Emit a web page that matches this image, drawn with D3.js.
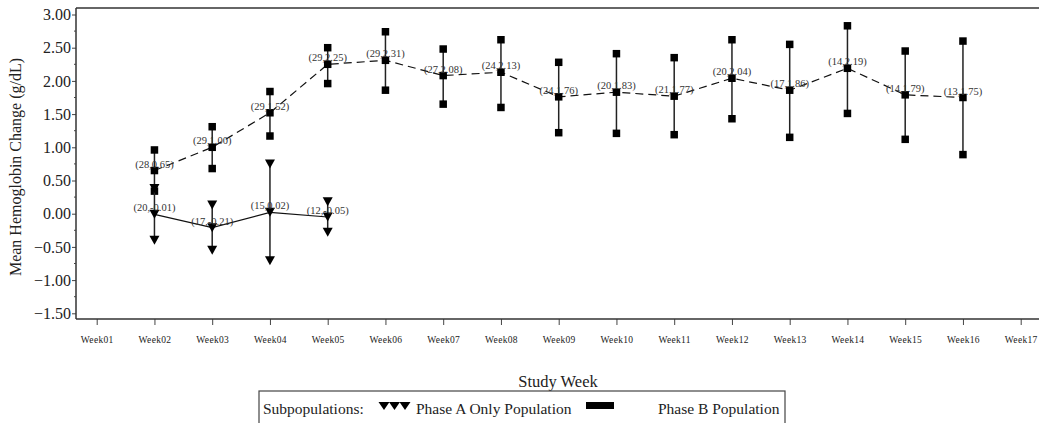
<!DOCTYPE html>
<html>
<head>
<meta charset="utf-8">
<script src="https://cdn.jsdelivr.net/npm/d3@7"></script>
<style>
  body { margin: 0; background: #fff; }
  text { font-family: "Liberation Serif", "Times New Roman", serif; }
</style>
</head>
<body>
<script>
// data
var weeks = ["Week01", "Week02", "Week03", "Week04", "Week05", "Week06", "Week07", "Week08", "Week09",
             "Week10", "Week11", "Week12", "Week13", "Week14", "Week15", "Week16", "Week17"];

// Phase B population (squares, dashed)
var weeksB = ["Week02", "Week03", "Week04", "Week05", "Week06", "Week07", "Week08", "Week09",
              "Week10", "Week11", "Week12", "Week13", "Week14", "Week15", "Week16"];
var nB = [28, 29, 29, 29, 29, 27, 24, 24, 20, 21, 20, 17, 14, 14, 13];
var meanB = [0.65, 1.00, 1.52, 2.25, 2.31, 2.08, 2.13, 1.76, 1.83, 1.77, 2.04, 1.86, 2.19, 1.79, 1.75];
var upperB = [0.96, 1.31, 1.84, 2.50, 2.74, 2.48, 2.62, 2.28, 2.41, 2.35, 2.62, 2.55, 2.83, 2.45, 2.60];
var lowerB = [0.34, 0.68, 1.17, 1.96, 1.86, 1.65, 1.60, 1.22, 1.21, 1.19, 1.43, 1.15, 1.51, 1.12, 0.89];

// Phase A only population (triangles, solid)
var weeksA = ["Week02", "Week03", "Week04", "Week05"];
var nA = [20, 17, 15, 12];
var meanA = [-0.01, -0.21, 0.02, -0.05];
var upperA = [0.38, 0.13, 0.75, 0.18];
var lowerA = [-0.40, -0.55, -0.71, -0.28];

var yTicks = [-1.5, -1.0, -0.5, 0, 0.5, 1.0, 1.5, 2.0, 2.5, 3.0];
var yMinor = d3.range(-1.25, 3.0, 0.5);

var W = 1039, H = 423;
var frame = { left: 76, top: 8, bottom: 319, right: 1039 };

var svg = d3.select("body").append("svg")
    .attr("width", W)
    .attr("height", H);

var x = d3.scalePoint().domain(weeks).range([96.7, 1020.7]);
var y = d3.scaleLinear().domain([-1.5, 3.0]).range([313.3, 14.5]);

var ink = "#222";

// top frame line
svg.append("line").attr("x1", frame.left).attr("x2", frame.right)
    .attr("y1", frame.top).attr("y2", frame.top)
    .attr("stroke", "#333").attr("stroke-width", 1.5);

// y axis
var yAxis = d3.axisLeft(y).tickValues(yTicks).tickSize(4).tickPadding(1)
    .tickFormat(d3.format(".2f"));
var gy = svg.append("g").attr("transform", "translate(" + frame.left + ",0)").call(yAxis);
gy.select(".domain").remove();
gy.append("line").attr("y1", frame.top).attr("y2", frame.bottom)
    .attr("stroke", "#333").attr("stroke-width", 1.5);
gy.selectAll(".tick line").attr("stroke", "#444");
gy.selectAll(".tick text").attr("fill", ink)
    .style("font-size", "16px")
    .style("font-family", "'Liberation Serif', serif");
gy.selectAll(".minor").data(yMinor).enter().append("line")
    .attr("class", "minor")
    .attr("x1", -2).attr("x2", 0)
    .attr("y1", function (d) { return y(d); }).attr("y2", function (d) { return y(d); })
    .attr("stroke", "#444");

// x axis
var xAxis = d3.axisBottom(x).tickSize(6).tickPadding(11);
var gx = svg.append("g").attr("transform", "translate(0," + frame.bottom + ")").call(xAxis);
gx.select(".domain").remove();
gx.append("line").attr("x1", frame.left).attr("x2", frame.right)
    .attr("stroke", "#333").attr("stroke-width", 1.5);
gx.selectAll(".tick line").attr("stroke", "#444");
gx.selectAll(".tick text").attr("fill", ink)
    .style("font-size", "9.5px")
    .style("letter-spacing", "0.3px")
    .style("font-family", "'Liberation Serif', serif");

// axis titles
svg.append("text")
    .attr("transform", "translate(21,167) rotate(-90)")
    .attr("text-anchor", "middle")
    .style("font-size", "16px")
    .attr("fill", ink)
    .text("Mean Hemoglobin Change (g/dL)");

svg.append("text")
    .attr("x", 558).attr("y", 387)
    .attr("text-anchor", "middle")
    .style("font-size", "16.5px")
    .attr("fill", ink)
    .text("Study Week");

// marker shapes
function squarePath(s) {
    return "M" + (-s / 2) + "," + (-s / 2) + "h" + s + "v" + s + "h" + (-s) + "Z";
}
function triPath(w, h) {
    return "M" + (-w / 2) + "," + (-h / 2) + "L" + (w / 2) + "," + (-h / 2) + "L0," + (h / 2) + "Z";
}

function drawSeries(wk, n, mean, up, lo, dash, marker) {
    var data = wk.map(function (w, i) {
        return { w: w, n: n[i], m: mean[i], up: up[i], lo: lo[i] };
    });
    var g = svg.append("g");
    var line = d3.line().x(function (d) { return x(d.w); }).y(function (d) { return y(d.m); });
    g.append("path").datum(data).attr("d", line)
        .attr("fill", "none").attr("stroke", "#111").attr("stroke-width", 1.2)
        .attr("stroke-dasharray", dash);
    g.selectAll(".bar").data(data).enter().append("line")
        .attr("x1", function (d) { return x(d.w); }).attr("x2", function (d) { return x(d.w); })
        .attr("y1", function (d) { return y(d.lo); }).attr("y2", function (d) { return y(d.up); })
        .attr("stroke", "#222").attr("stroke-width", 1.5);
    ["lo", "up", "m"].forEach(function (k) {
        g.selectAll(".mk-" + k).data(data).enter().append("path")
            .attr("d", marker)
            .attr("transform", function (d) { return "translate(" + x(d.w) + "," + y(d[k]) + ")"; })
            .attr("fill", "#000");
    });
    g.selectAll(".lbl").data(data).enter().append("text")
        .attr("x", function (d) { return x(d.w); })
        .attr("y", function (d) { return y(d.m) - 3; })
        .attr("text-anchor", "middle")
        .style("font-size", "10.5px")
        .attr("fill", "#333")
        .text(function (d) { return "(" + d.n + "," + d.m.toFixed(2) + ")"; });
}

drawSeries(weeksB, nB, meanB, upperB, lowerB, "8,5", squarePath(7.5));
drawSeries(weeksA, nA, meanA, upperA, lowerA, null, triPath(10, 9));

// legend
var lg = svg.append("g");
lg.append("rect").attr("x", 259).attr("y", 391).attr("width", 526).attr("height", 40)
    .attr("fill", "none").attr("stroke", "#444").attr("stroke-width", 1.2);
lg.append("text").attr("x", 263).attr("y", 414).style("font-size", "15.5px").attr("fill", ink)
    .text("Subpopulations:");
[384, 394.5, 405].forEach(function (cx) {
    lg.append("path").attr("d", triPath(11, 8))
        .attr("transform", "translate(" + cx + ",406)").attr("fill", "#000");
});
lg.append("text").attr("x", 416).attr("y", 414).style("font-size", "15.5px").attr("fill", ink)
    .text("Phase A Only Population");
lg.append("rect").attr("x", 586).attr("y", 402).attr("width", 28).attr("height", 7).attr("fill", "#000");
lg.append("text").attr("x", 658).attr("y", 414).style("font-size", "15.5px").attr("fill", ink)
    .text("Phase B Population");
</script>
</body>
</html>
